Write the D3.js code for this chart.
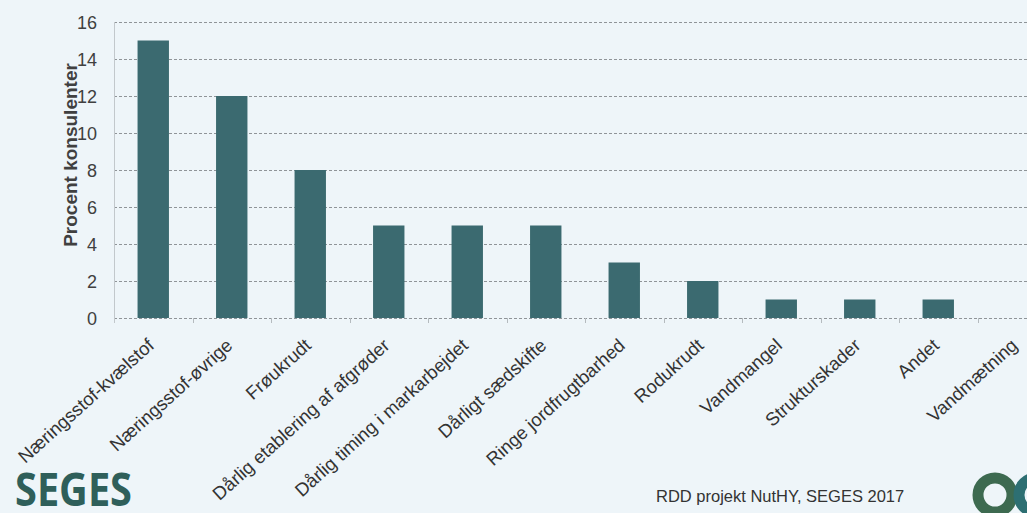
<!DOCTYPE html>
<html>
<head>
<meta charset="utf-8">
<script src="https://cdn.jsdelivr.net/npm/d3@7"></script>
<style>
  html, body { margin: 0; padding: 0; background: #eef5f9; }
  svg { display: block; }
</style>
</head>
<body>
<div id="chart"></div>
<script>
// width and height
var w = 1027;
var h = 513;

var categories = [
  "Næringsstof-kvælstof", "Næringsstof-øvrige", "Frøukrudt",
  "Dårlig etablering af afgrøder", "Dårlig timing i markarbejdet",
  "Dårligt sædskifte", "Ringe jordfrugtbarhed", "Rodukrudt",
  "Vandmangel", "Strukturskader", "Andet", "Vandmætning"
];
var values = [15, 12, 8, 5, 5, 5, 3, 2, 1, 1, 1, 0];
var yTicks = [0, 2, 4, 6, 8, 10, 12, 14, 16];

var yTitle = "Procent konsulenter";
var source = "RDD projekt NutHY, SEGES 2017";

// plot area (the category band runs past the right edge, as in the original)
var plotLeft = 114, plotTop = 22, plotBottom = 318;
var step = 78.5;
var plotRight = plotLeft + step * categories.length;

var svg = d3.select("#chart")
  .append("svg")
  .attr("width", w)
  .attr("height", h);

svg.append("rect")
  .attr("width", w)
  .attr("height", h)
  .attr("fill", "#eef5f9");

var x = d3.scaleBand()
  .domain(categories)
  .range([plotLeft, plotRight])
  .paddingInner(0.6)
  .paddingOuter(0.3);

var y = d3.scaleLinear()
  .domain([0, 16])
  .range([plotBottom, plotTop]);

// gridlines
svg.append("g")
  .selectAll("line")
  .data(yTicks)
  .enter()
  .append("line")
  .attr("x1", plotLeft)
  .attr("x2", w)
  .attr("y1", function(d) { return Math.round(y(d)) + 0.5; })
  .attr("y2", function(d) { return Math.round(y(d)) + 0.5; })
  .attr("stroke", "#8f9498")
  .attr("stroke-width", 1)
  .attr("stroke-dasharray", "3,2");

// vertical axis line
svg.append("line")
  .attr("x1", plotLeft + 0.5)
  .attr("x2", plotLeft + 0.5)
  .attr("y1", plotTop)
  .attr("y2", plotBottom + 5)
  .attr("stroke", "#c2c8cc");

// y axis labels
var yAxis = d3.axisLeft(y)
  .tickValues(yTicks)
  .tickSize(0)
  .tickPadding(0);

var gy = svg.append("g")
  .attr("transform", "translate(" + (plotLeft - 17) + ",0)")
  .call(yAxis);
gy.select(".domain").remove();
gy.selectAll("text")
  .attr("font-family", "Liberation Sans, Arial, sans-serif")
  .attr("font-size", "18px")
  .attr("fill", "#404040")
  .attr("dy", "0.35em");

// y axis title
svg.append("text")
  .attr("transform", "translate(77,155) rotate(-90)")
  .attr("text-anchor", "middle")
  .attr("font-family", "Liberation Sans, Arial, sans-serif")
  .attr("font-weight", "bold")
  .attr("font-size", "19px")
  .attr("fill", "#404040")
  .text(yTitle);

// category tick marks on the baseline
svg.append("g")
  .selectAll("line")
  .data(d3.range(1, categories.length + 1))
  .enter()
  .append("line")
  .attr("x1", function(i) { return Math.round(plotLeft + i * step) + 0.5; })
  .attr("x2", function(i) { return Math.round(plotLeft + i * step) + 0.5; })
  .attr("y1", plotBottom)
  .attr("y2", plotBottom + 5)
  .attr("stroke", "#b5bbbf");

// bars
svg.append("g")
  .selectAll("rect")
  .data(values)
  .enter()
  .append("rect")
  .attr("x", function(d, i) { return x(categories[i]); })
  .attr("y", function(d) { return y(d); })
  .attr("width", x.bandwidth())
  .attr("height", function(d) { return y(0) - y(d); })
  .attr("fill", "#3b6a70");

// x labels, rotated
svg.append("g")
  .selectAll("text")
  .data(categories)
  .enter()
  .append("text")
  .attr("transform", function(d) {
    return "translate(" + (x(d) + x.bandwidth() / 2 + 2) + "," + (plotBottom + 29) + ") rotate(-42)";
  })
  .attr("text-anchor", "end")
  .attr("font-family", "Liberation Sans, Arial, sans-serif")
  .attr("font-size", "18.5px")
  .attr("fill", "#333")
  .text(function(d) { return d; });

// SEGES logo text
svg.append("text")
  .attr("x", 15)
  .attr("y", 506)
  .attr("font-family", "Open Sans, sans-serif")
  .attr("font-weight", "bold")
  .attr("font-size", "47px")
  .attr("textLength", 117)
  .attr("lengthAdjust", "spacingAndGlyphs")
  .attr("fill", "#2f5f5a")
  .text("SEGES");

// source line
svg.append("text")
  .attr("x", 656)
  .attr("y", 502)
  .attr("font-family", "Liberation Sans, Arial, sans-serif")
  .attr("font-size", "16.5px")
  .attr("fill", "#333")
  .text(source);

// round logo, bottom right
var rings = [
  { cx: 995, cy: 495, color: "#3d6a50" },
  { cx: 1036, cy: 495, color: "#2d6f72" }
];
svg.append("g")
  .selectAll("circle")
  .data(rings)
  .enter()
  .append("circle")
  .attr("cx", function(d) { return d.cx; })
  .attr("cy", function(d) { return d.cy; })
  .attr("r", 17)
  .attr("fill", "none")
  .attr("stroke", function(d) { return d.color; })
  .attr("stroke-width", 11);
</script>
</body>
</html>
